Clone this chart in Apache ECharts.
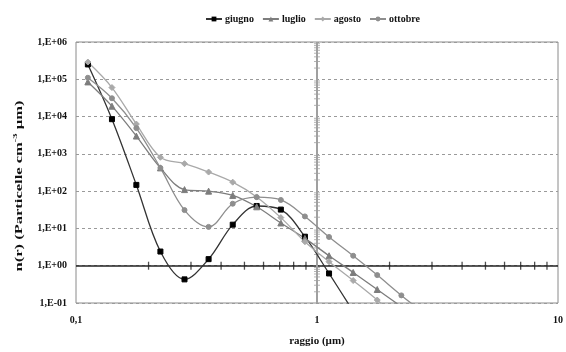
<!DOCTYPE html>
<html>
<head>
<meta charset="utf-8">
<script src="https://cdn.jsdelivr.net/npm/echarts@6/dist/echarts.min.js"></script>
<style>
  html, body { margin: 0; padding: 0; background: #fff; }
  #chart { width: 566px; height: 352px; }
</style>
</head>
<body>
<div id="chart"></div>
<script>
// raggio (um) - punti comuni a tutte le serie
const raggio = [0.112, 0.141, 0.178, 0.224, 0.282, 0.355, 0.447, 0.562, 0.708, 0.891, 1.122, 1.413, 1.778, 2.239, 2.818]

const giugno = [2.5e5, 8.5e3, 147, 2.4, 0.43, 1.5, 12.6, 40, 32, 6, 0.62, 0.06]
const luglio = [8.5e4, 1.9e4, 3000, 420, 110, 100, 77, 38, 14, 5.4, 1.85, 0.66, 0.23, 0.08]
const agosto = [2.9e5, 6.0e4, 6300, 810, 545, 325, 174, 70, 19.5, 4.4, 1.28, 0.4, 0.12, 0.03]
const ottobre = [1.1e5, 3.1e4, 4900, 420, 31, 11, 46, 69, 58, 21, 5.9, 1.85, 0.56, 0.16, 0.05]

// tacche secondarie sugli assi che si incrociano in (1, 1)
const minorSteps = [2, 3, 4, 5, 6, 7, 8, 9]
const xTickDecades = [0.1, 1]
const yTickDecades = [0.1, 1, 10, 100, 1000, 10000, 100000]

const font = 'Liberation Serif'

const chart = echarts.init(document.getElementById('chart'))

function pairs (values) {
  return values.map((v, i) => [raggio[i], v])
}

function lineSerie (name, values, symbol, lineColor, markColor, size) {
  return {
    name: name,
    type: 'line',
    data: pairs(values),
    smooth: 0.35,
    symbol: symbol,
    symbolSize: size,
    showSymbol: true,
    clip: true,
    z: 5,
    lineStyle: { color: lineColor, width: 1.3 },
    itemStyle: { color: markColor, borderColor: markColor },
    emphasis: { disabled: true }
  }
}

const xTicks = []
xTickDecades.forEach(d => minorSteps.forEach(s => xTicks.push([d * s, 1])))
const yTicks = []
yTickDecades.forEach(d => minorSteps.forEach(s => yTicks.push([1, d * s])))

const option = {
  animation: false,
  textStyle: { fontFamily: font },
  legend: {
    data: ['giugno', 'luglio', 'agosto', 'ottobre'],
    top: 9,
    left: 200,
    itemWidth: 16,
    itemHeight: 6,
    itemGap: 8,
    textStyle: { fontFamily: font, fontWeight: 'bold', fontSize: 10, color: '#111', padding: [0, 0, 0, -2] }
  },
  grid: {
    left: 76,
    right: 5,
    top: 42,
    bottom: 47,
    show: true,
    borderColor: '#8a8a8a',
    borderWidth: 1
  },
  // titolo asse y, allungato come nell'originale
  graphic: [{
    type: 'text',
    x: 19,
    y: 186,
    rotation: Math.PI / 2,
    scaleX: 1.5,
    silent: true,
    style: {
      text: 'n(r) (Particelle cm{sup|-3} µm)',
      font: 'bold 11px "Liberation Serif"',
      fill: '#111',
      align: 'center',
      verticalAlign: 'middle',
      rich: {
        sup: { font: 'bold 7px "Liberation Serif"', fill: '#111', padding: [0, 0, 8, 0] }
      }
    }
  }],
  xAxis: {
    type: 'log',
    logBase: 10,
    min: 0.1,
    max: 10,
    name: 'raggio (µm)',
    nameLocation: 'middle',
    nameGap: 33,
    nameTextStyle: { fontFamily: font, fontWeight: 'bold', fontSize: 11, color: '#111' },
    axisLine: { show: false },
    axisTick: { show: false },
    splitLine: { show: false },
    axisLabel: {
      margin: 12,
      fontFamily: font,
      fontWeight: 'bold',
      fontSize: 10,
      color: '#111',
      formatter: v => String(+v.toPrecision(3)).replace('.', ',')
    }
  },
  yAxis: {
    type: 'log',
    logBase: 10,
    min: 0.1,
    max: 1e6,
    axisLine: { show: false },
    axisTick: { show: false },
    splitLine: { show: true, lineStyle: { color: '#9a9a9a', type: [3, 3], width: 1 } },
    axisLabel: {
      margin: 9,
      fontFamily: font,
      fontWeight: 'bold',
      fontSize: 10,
      color: '#111',
      formatter: function (v) {
        const e = Math.round(Math.log10(v))
        const s = e < 0 ? '-' : '+'
        return '1,E' + s + String(Math.abs(e)).padStart(2, '0')
      }
    }
  },
  series: [
    lineSerie('giugno', giugno, 'rect', '#333', '#000', 5),
    lineSerie('luglio', luglio, 'triangle', '#7d7d7d', '#7d7d7d', 6),
    lineSerie('agosto', agosto, 'diamond', '#a9a9a9', '#a9a9a9', 6),
    lineSerie('ottobre', ottobre, 'circle', '#8e8e8e', '#8e8e8e', 5),
    {
      name: 'assi',
      type: 'scatter',
      data: xTicks,
      symbol: 'rect',
      symbolSize: [1.3, 8],
      itemStyle: { color: '#222' },
      silent: true,
      z: 3,
      markLine: {
        silent: true,
        symbol: 'none',
        label: { show: false },
        data: [
          { yAxis: 1, lineStyle: { color: '#222', width: 1.5, type: 'solid' } },
          { xAxis: 1, lineStyle: { color: '#a0a0a0', width: 2, type: 'solid' } }
        ]
      }
    },
    {
      name: 'tacche',
      type: 'scatter',
      data: yTicks,
      symbol: 'rect',
      symbolSize: [6, 1],
      itemStyle: { color: '#a0a0a0' },
      silent: true,
      z: 3
    }
  ]
}

chart.setOption(option)
</script>
</body>
</html>
